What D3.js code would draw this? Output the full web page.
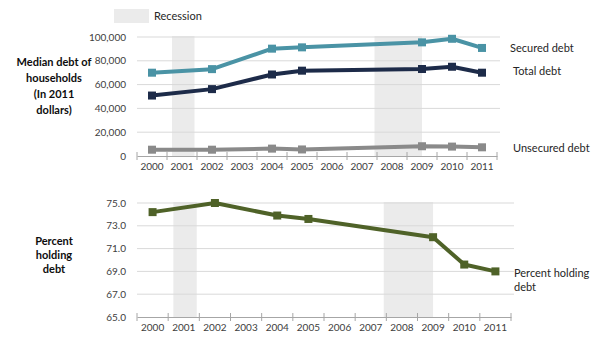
<!DOCTYPE html>
<html>
<head>
<meta charset="utf-8">
<script src="https://cdn.jsdelivr.net/npm/d3@7"></script>
<style>
  body { margin: 0; background: #fff; }
  svg { font-family: Lato, "Open Sans", sans-serif; }
</style>
</head>
<body>
<svg id="chart" width="600" height="340"></svg>
<script>
const years = ['2000', '2001', '2002', '2003', '2004', '2005', '2006', '2007', '2008', '2009', '2010', '2011'];
const surveyYears = ['2000', '2002', '2004', '2005', '2009', '2010', '2011'];

const securedDebt = [70000, 73000, 90200, 91300, 95500, 98500, 90800];
const totalDebt = [50800, 56200, 68500, 71700, 73100, 75000, 70000];
const unsecuredDebt = [5300, 5300, 6200, 5500, 8200, 7900, 7300];
const percentHolding = [74.2, 75.0, 73.9, 73.6, 72.0, 69.6, 69.0];

const debtTicks = [0, 20000, 40000, 60000, 80000, 100000];
const percentTicks = [65, 67, 69, 71, 73, 75];

// recessions as [year, month] start/end pairs (months 0-12 inside the year band)
const recessions = [
  [['2001', 2], ['2001', 11]],
  [['2007', 11], ['2009', 6]]
];

const svg = d3.select('#chart');
const gridColor = '#d9d9d9';
const recessionColor = '#ebebeb';
const tickColor = '#595959';

const recessionX = (x, [year, month]) => x(year) + x.bandwidth() * month / 12;

function drawPanel(opts) {
  const x = d3.scaleBand().domain(years).range([137, opts.right]);
  const y = d3.scaleLinear().domain(opts.domain).range(opts.yRange);
  const g = svg.append('g');

  g.selectAll('rect.recession')
    .data(recessions)
    .enter().append('rect')
    .attr('class', 'recession')
    .attr('x', (d) => recessionX(x, d[0]))
    .attr('width', (d) => recessionX(x, d[1]) - recessionX(x, d[0]))
    .attr('y', y(opts.domain[1]) - 1)
    .attr('height', y(opts.domain[0]) - y(opts.domain[1]) + 1)
    .attr('fill', recessionColor);

  // horizontal grid
  g.selectAll('line.grid')
    .data(opts.ticks.slice(1))
    .enter().append('line')
    .attr('x1', 137).attr('x2', opts.right + 3)
    .attr('y1', (d) => y(d)).attr('y2', (d) => y(d))
    .attr('stroke', gridColor)
    .attr('stroke-width', 1);

  // y tick labels
  g.selectAll('text.ytick')
    .data(opts.ticks)
    .enter().append('text')
    .attr('x', 126)
    .attr('y', (d) => y(d))
    .attr('dy', '0.35em')
    .attr('text-anchor', 'end')
    .attr('font-size', 10)
    .attr('fill', '#404040')
    .text(opts.format);

  // x axis with ticks on band boundaries
  const xAxis = d3.axisBottom(x).tickSize(0).tickPadding(7);
  const axisG = g.append('g')
    .attr('transform', `translate(0,${y(opts.domain[0])})`)
    .call(xAxis);
  axisG.select('.domain').attr('stroke', '#a6a6a6');
  axisG.selectAll('text').attr('font-size', 10).attr('fill', '#404040')
    .attr('font-family', 'Lato, "Open Sans", sans-serif');
  axisG.selectAll('line.boundary')
    .data(years.concat(['end']))
    .enter().append('line')
    .attr('x1', (d, i) => 137 + i * x.bandwidth())
    .attr('x2', (d, i) => 137 + i * x.bandwidth())
    .attr('y1', -4).attr('y2', 4)
    .attr('stroke', '#a6a6a6');

  const line = d3.line()
    .x((d) => x(d.year) + x.bandwidth() / 2)
    .y((d) => y(d.value));

  opts.series.forEach((s) => {
    const pts = surveyYears.map((yr, i) => ({ year: yr, value: s.values[i] }));
    g.append('path')
      .datum(pts)
      .attr('d', line)
      .attr('fill', 'none')
      .attr('stroke', s.color)
      .attr('stroke-width', 4)
      .attr('stroke-linejoin', 'round');
    g.selectAll(null)
      .data(pts)
      .enter().append('rect')
      .attr('x', (d) => x(d.year) + x.bandwidth() / 2 - 4)
      .attr('y', (d) => y(d.value) - 4)
      .attr('width', 8).attr('height', 8)
      .attr('fill', s.color);
    s.label.forEach((txt, i) => {
      g.append('text')
        .attr('x', s.labelX)
        .attr('y', s.labelY + i * 14)
        .attr('font-size', 11)
        .attr('fill', '#262626')
        .text(txt);
    });
  });

  // left-side panel title
  opts.title.lines.forEach((txt, i) => {
    g.append('text')
      .attr('x', 54)
      .attr('y', opts.title.y + i * opts.title.step)
      .attr('text-anchor', 'middle')
      .attr('font-size', 11)
      .attr('font-weight', 'bold')
      .attr('fill', '#0d0d0d')
      .text(txt);
  });
}

drawPanel({
  domain: [0, 100000],
  yRange: [156, 37],
  right: 497,
  ticks: debtTicks,
  format: d3.format(',d'),
  title: { lines: ['Median debt of', 'households', '(In 2011', 'dollars)'], y: 66, step: 16 },
  series: [
    { values: securedDebt, color: '#4a93a5', label: ['Secured debt'], labelX: 510, labelY: 52 },
    { values: totalDebt, color: '#1d2b49', label: ['Total debt'], labelX: 513, labelY: 75 },
    { values: unsecuredDebt, color: '#8a8a8a', label: ['Unsecured debt'], labelX: 513, labelY: 152 }
  ]
});

drawPanel({
  domain: [65, 75],
  yRange: [317, 203],
  right: 511,
  ticks: percentTicks,
  format: d3.format('.1f'),
  title: { lines: ['Percent', 'holding', 'debt'], y: 245, step: 14 },
  series: [
    { values: percentHolding, color: '#4f6228', label: ['Percent holding', 'debt'], labelX: 514, labelY: 277 }
  ]
});

// legend
svg.append('rect')
  .attr('x', 114).attr('y', 9)
  .attr('width', 35).attr('height', 14)
  .attr('fill', recessionColor);
svg.append('text')
  .attr('x', 154).attr('y', 16)
  .attr('dy', '0.35em')
  .attr('font-size', 11)
  .attr('fill', '#262626')
  .text('Recession');
</script>
</body>
</html>
